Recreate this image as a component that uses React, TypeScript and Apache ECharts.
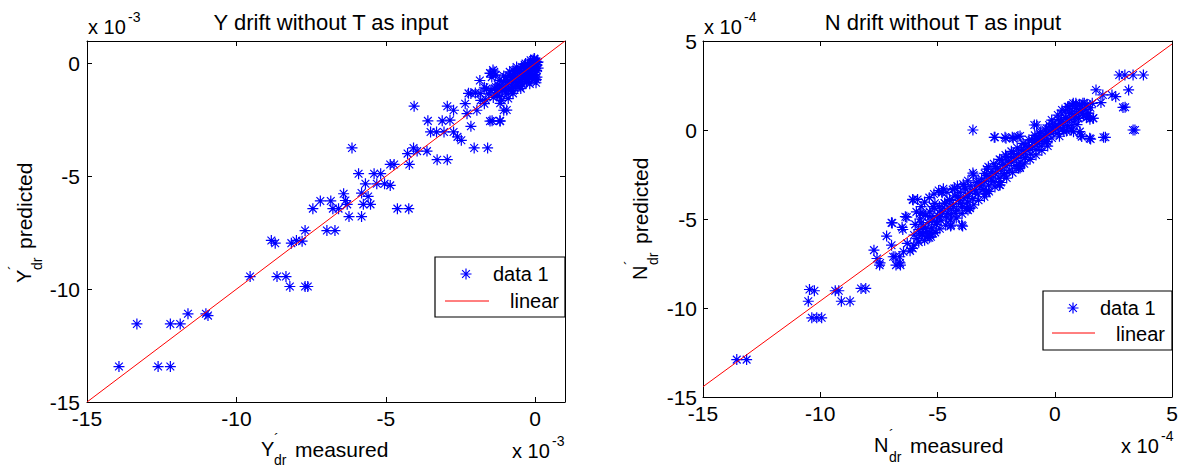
import React, { useEffect, useRef } from 'react';
import * as echarts from 'echarts';

const FONT = '"Liberation Sans", Arial, Helvetica, sans-serif';

// ---------- data (left: x 10^-3, right: x 10^-4) ----------
const yTitle = 'Y drift without T as input';
const nTitle = 'N drift without T as input';
const legendNames = ['data 1', 'linear'];

const yTicksX = { min: -15, max: 1, interval: 5 };
const yTicksY = { min: -15, max: 1, interval: 5 };
const nTicksX = { min: -15, max: 5, interval: 5 };
const nTicksY = { min: -15, max: 5, interval: 5 };

const yDriftPoints: [number, number][] = [
  [-13.93, -13.43], [-13.33, -11.54], [-12.62, -13.43], [-12.21, -13.43], [-12.21, -11.54],
  [-11.88, -11.54], [-11.62, -11.09], [-11.02, -11.09], [-10.95, -11.17], [-9.54, -9.44],
  [-8.83, -7.84], [-8.7, -7.96], [-8.64, -9.44], [-8.34, -9.44], [-8.21, -9.88],
  [-8.16, -7.96], [-7.99, -7.84], [-7.8, -7.87], [-7.7, -7.4], [-7.7, -9.88],
  [-7.61, -9.88], [-7.44, -6.43], [-7.19, -6.09], [-6.97, -7.4], [-6.84, -6.09],
  [-6.77, -6.43], [-6.7, -7.4], [-6.58, -6.43], [-6.41, -5.77], [-6.35, -6.07],
  [-6.29, -6.24], [-6.23, -6.78], [-6.13, -3.74], [-5.91, -4.88], [-5.81, -5.74],
  [-5.81, -6.78], [-5.75, -6.24], [-5.68, -5.33], [-5.59, -5.89], [-5.51, -6.24],
  [-5.39, -4.88], [-5.3, -5.33], [-5.17, -4.88], [-5.04, -5.33], [-4.85, -5.4],
  [-4.85, -4.47], [-4.72, -4.47], [-4.61, -6.43], [-4.23, -6.43], [-4.27, -3.99],
  [-4.21, -4.47], [-4.07, -3.74], [-4.05, -1.89], [-3.95, -3.88], [-3.62, -3.88],
  [-3.59, -2.54], [-3.5, -3.03], [-3.3, -3.03], [-3.28, -4.26], [-3.11, -2.54],
  [-3.05, -3.03], [-2.94, -4.26], [-2.94, -1.89], [-2.85, -2.51], [-2.73, -2.07],
  [-2.73, -3.03], [-2.6, -3.25], [-2.47, -3.4], [-2.34, -1.78], [-2.28, -2.22],
  [-2.23, -1.32], [-2.15, -2.78], [-2.15, -1.33], [-2.04, -3.74], [-1.95, -2.07],
  [-1.84, -1.32], [-1.82, -1.63], [-1.7, -1.78], [-1.63, -1.11], [-1.59, -3.74],
  [-1.51, -0.42], [-1.51, -2.55], [-1.5, -0.44], [-1.44, -2.54], [-1.41, -0.29],
  [-1.37, -0.37], [-1.31, -1.04], [-1.25, -1.41], [-1.18, -2.54], [-1.17, -2.55],
  [-1.17, -1.76], [-1.12, -1.63], [-1.05, -2.07], [-0.99, -1.26], [-0.95, -2.06],
  [-0.93, -0.81], [-0.85, -0.37], [-0.8, -1.11], [-0.74, -1.32], [-0.74, -0.29],
  [-0.73, -0.59], [-0.67, -0.96], [-0.6, -0.3], [-0.54, -0.74], [-0.5, -1.02],
  [-0.48, -1.11], [-0.45, -0.15], [-0.37, -0.52], [-0.32, 0.0], [-0.28, -0.81],
  [-0.24, -0.58], [-0.22, -0.3], [-0.15, 0.15], [-0.12, -0.67], [-0.07, 0.16],
  [-0.06, -0.15], [-0.03, 0.22], [0.0, -0.37], [0.0, -0.65], [0.0, 0.02],
  [0.04, -0.71], [0.06, -0.07], [0.1, 0.07],
  [-1.55, -1.35], [-1.48, -1.2], [-1.4, -1.5], [-1.35, -1.1], [-1.3, -1.3],
  [-1.25, -0.95], [-1.2, -1.45], [-1.15, -1.0], [-1.1, -1.2], [-1.05, -0.8],
  [-1.0, -1.05], [-0.98, -0.6], [-0.95, -1.35], [-0.9, -0.85], [-0.88, -1.15],
  [-0.85, -0.55], [-0.8, -0.95], [-0.78, -0.7], [-0.75, -1.2], [-0.7, -0.45],
  [-0.68, -0.8], [-0.65, -1.0], [-0.6, -0.6], [-0.58, -0.35], [-0.55, -0.85],
  [-0.5, -0.5], [-0.48, -0.25], [-0.45, -0.7], [-0.42, -0.95], [-0.4, -0.4],
  [-0.38, -0.15], [-0.35, -0.6], [-0.3, -0.3], [-0.28, -0.8], [-0.25, -0.1],
  [-0.22, -0.45], [-0.2, -0.65], [-0.18, -0.2], [-0.15, 0.05], [-0.12, -0.35],
  [-0.1, -0.55], [-0.08, -0.1], [-0.05, 0.12], [-0.03, -0.25], [0.02, -0.15],
  [0.04, 0.1], [0.05, -0.3], [0.06, -0.6], [0.08, 0.05], [0.1, -0.2],
  [-0.02, 0.2], [0.03, -0.85], [-1.7, -1.05], [-1.85, -0.75], [-2.0, -1.3],
  [-1.65, -1.6], [-0.9, -1.55], [-1.45, -0.6], [-1.32, -0.5], [-1.2, -0.75],
  [-1.05, -0.55], [-0.62, -0.15], [-0.35, -0.05], [-0.18, -0.9], [-0.02, -0.5]
];

const nDriftPoints: [number, number][] = [
  [-13.56, -12.9], [-13.14, -12.9], [-10.46, -8.96], [-10.25, -9.03], [-10.51, -9.62],
  [-10.36, -10.55], [-9.94, -10.55], [-10.15, -10.55], [-9.36, -9.03], [-9.21, -9.03],
  [-9.1, -9.62], [-8.73, -9.62], [-8.26, -8.9], [-8.06, -8.9], [-7.71, -6.75],
  [-7.58, -7.22], [-7.47, -7.59], [-7.45, -7.47], [-7.17, -5.96], [-6.96, -5.21],
  [-6.96, -6.47], [-6.93, -5.22], [-6.89, -7.12], [-6.81, -7.12], [-6.77, -7.59],
  [-6.61, -7.12], [-6.6, -7.47], [-6.58, -7.59], [-6.51, -5.47], [-6.48, -5.59],
  [-6.45, -6.84], [-6.37, -4.87], [-6.31, -4.9], [-6.29, -6.37], [-6.17, -6.79],
  [-6.06, -6.65], [-6.04, -3.93], [-6.01, -6.47], [-6.06, -3.9], [-5.85, -3.9],
  [-5.75, -5.79], [-5.74, -4.69], [-5.7, -5.21], [-5.63, -5.81], [-5.62, -4.67],
  [-5.51, -5.53], [-5.43, -5.96], [-5.32, -4.87], [-5.32, -5.79], [-5.28, -6.0],
  [-5.19, -5.81], [-5.19, -4.31], [-5.11, -4.12], [-5.04, -5.15], [-4.91, -4.87],
  [-4.85, -4.5], [-4.82, -3.47], [-4.8, -3.52], [-4.69, -4.12], [-4.56, -4.69],
  [-4.48, -3.9], [-4.44, -5.4], [-4.42, -5.34], [-4.33, -4.31], [-4.28, -3.28],
  [-4.22, -4.69], [-4.12, -3.75], [-4.01, -4.12], [-3.97, -5.34], [-3.93, -5.4],
  [-3.86, -3.19], [-3.78, -4.4], [-3.7, -3.75], [-3.62, -4.4], [-3.61, -4.38],
  [-3.49, 0.0], [-3.49, -2.42], [-3.46, -2.53], [-3.38, -3.47], [-3.27, -2.91],
  [-3.15, -3.19], [-2.99, -2.44], [-2.91, -3.47], [-2.9, -3.56], [-2.83, -2.06],
  [-2.71, -2.81], [-2.58, -0.41], [-2.55, -0.41], [-2.52, -2.06], [-2.36, -3.09],
  [-2.33, -3.09], [-2.28, -1.69], [-2.17, -2.53], [-2.12, -0.41], [-2.08, -0.47],
  [-2.05, -1.5], [-1.81, -0.41], [-1.77, -0.47], [-1.76, -1.31], [-1.57, -0.37],
  [-1.49, -2.06], [-1.48, -2.13], [-1.48, -0.34], [-1.42, -1.12], [-1.26, -0.84],
  [-1.1, -0.94], [-0.98, -0.56], [-0.87, 0.28], [-0.79, -0.47], [-0.77, 0.28],
  [-0.63, -0.19], [-0.55, -0.56], [-0.39, 0.0], [-0.31, -0.66], [-0.24, 0.28],
  [-0.13, 0.56], [0.0, 0.19], [0.13, 0.84], [0.24, 0.37], [0.31, 1.12],
  [0.39, -0.09], [0.47, 0.66], [0.55, 1.31], [0.63, 0.94], [0.71, 0.0],
  [0.79, 1.5], [0.87, 0.75], [0.94, 1.22], [1.02, 0.66], [1.07, -0.09],
  [1.1, -0.28], [1.15, -0.37], [1.18, 0.94], [1.26, 1.5], [1.42, 0.75],
  [1.49, -0.47], [1.53, -0.51], [1.63, 0.66], [1.65, 0.66], [1.76, 2.25],
  [1.97, 1.54], [2.05, 1.97], [2.08, -0.41], [2.16, -0.41], [2.44, 1.97],
  [2.6, 1.87], [2.75, 3.09], [2.91, 1.27], [3.0, 1.28], [2.99, 3.09],
  [3.15, 2.25], [3.34, 0.0], [3.42, 0.0], [3.34, 3.09], [3.78, 3.09],
  [-6.0, -5.9], [-5.95, -5.3], [-5.88, -6.1], [-5.8, -5.6], [-5.75, -5.0],
  [-5.66, -5.9], [-5.6, -5.4], [-5.52, -4.8], [-5.45, -5.7], [-5.4, -5.2],
  [-5.33, -4.6], [-5.25, -5.5], [-5.2, -5.0], [-5.12, -4.4], [-5.05, -5.3],
  [-5.0, -4.8], [-4.92, -4.3], [-4.85, -5.1], [-4.78, -4.6], [-4.7, -4.1],
  [-4.62, -4.9], [-4.55, -4.4], [-4.48, -3.95], [-4.4, -4.7], [-4.33, -4.2],
  [-4.25, -3.7], [-4.18, -4.5], [-4.1, -3.95], [-4.03, -3.5], [-3.95, -4.3],
  [-3.88, -3.8], [-3.8, -3.3], [-3.72, -4.05], [-3.65, -3.55], [-3.58, -3.15],
  [-3.5, -3.85], [-3.42, -3.35], [-3.35, -2.95], [-3.28, -3.6], [-3.2, -3.1],
  [-3.12, -2.75], [-3.05, -3.35], [-2.98, -2.9], [-2.9, -2.55], [-2.82, -3.1],
  [-2.75, -2.65], [-2.68, -2.35], [-2.6, -2.9], [-2.52, -2.45], [-2.45, -2.15],
  [-2.38, -2.7], [-2.3, -2.25], [-2.22, -1.95], [-2.15, -2.45], [-2.08, -2.0],
  [-2.0, -1.75], [-1.92, -2.25], [-1.85, -1.8], [-1.78, -1.55], [-1.7, -2.0],
  [-1.62, -1.6], [-1.55, -1.35], [-1.48, -1.8], [-1.4, -1.4], [-1.32, -1.15],
  [-1.25, -1.55], [-1.18, -1.15], [-1.1, -0.95], [-1.02, -1.35], [-0.95, -0.95],
  [-0.88, -0.7], [-0.8, -1.1], [-0.72, -0.75], [-0.65, -0.5], [-0.58, -0.9],
  [-0.5, -0.5], [-0.42, -0.3], [-0.35, -0.65], [-0.28, -0.25], [-0.2, -0.05],
  [-0.12, -0.45], [-0.05, -0.05], [0.02, 0.2], [0.1, -0.2], [0.18, 0.15],
  [0.25, 0.45], [0.32, 0.05], [0.4, 0.4], [0.48, 0.7], [0.55, 0.25],
  [0.62, 0.6], [0.7, 0.95], [0.78, 0.45], [0.85, 0.85], [0.92, 1.2],
  [1.0, 0.65], [1.08, 1.05], [1.15, 1.35], [1.22, 0.8], [1.3, 1.15],
  [1.38, 1.45], [1.45, 0.95], [1.52, 1.25], [1.6, 1.5], [0.6, 1.3],
  [0.75, 1.4], [0.9, 1.5], [1.05, 1.45], [1.2, 1.5], [0.45, 1.1],
  [0.3, 0.9], [1.35, 0.7], [1.5, 0.6], [0.95, 0.3], [0.7, 0.1],
  [0.5, -0.05], [0.2, -0.35], [0.8, -0.1],
  [-5.9, -4.6], [-5.7, -4.3], [-5.55, -4.05], [-5.35, -3.8], [-5.15, -3.6],
  [-4.95, -3.4], [-4.75, -3.3], [-4.6, -3.5], [-4.35, -3.35], [-4.15, -3.15],
  [-3.9, -3.05], [-3.7, -2.85], [-5.8, -6.3], [-5.55, -6.2], [-5.35, -6.05],
  [-5.1, -5.75], [-4.9, -5.55], [-4.65, -5.35], [-4.45, -5.05], [-4.2, -4.95],
  [-3.95, -4.7], [-3.7, -4.5], [-3.45, -4.2], [-3.25, -3.95], [-3.0, -3.75],
  [-2.8, -3.45], [-2.55, -3.2], [-2.3, -2.95], [-2.05, -2.7], [-1.8, -2.4],
  [-1.55, -2.15], [-1.3, -1.9], [-1.05, -1.65], [-0.8, -1.4], [-0.55, -1.15],
  [-0.3, -0.9], [-2.9, -2.2], [-2.6, -1.9], [-2.35, -1.65], [-2.1, -1.4],
  [-1.85, -1.2], [-1.6, -1.0], [-1.35, -0.75], [-1.1, -0.55], [-0.85, -0.3],
  [-0.6, -0.1], [-0.35, 0.1], [-0.1, 0.35], [0.15, 0.6]
];

const yLinearX = [-15, 1];
const yLinearY = [-15, 1];
const nLinearX = [-15, 5];
const nLinearY = [-14.42, 4.83];

// ---------- drawing ----------
const ASTERISK =
  'M4.45,0H5.55V10H4.45Z M0,4.45H10V5.55H0Z M1.1,1.85L1.85,1.1L8.9,8.15L8.15,8.9Z M8.15,1.1L8.9,1.85L1.85,8.9L1.1,8.15Z';

echarts.graphic.registerShape('asterisk', echarts.graphic.extendPath(ASTERISK, {}) as any);

const BLUE = '#0000ff';
const RED = '#ff0000';
const TICK_FS = 21;

const fmt = (v: number) => (v % 5 === 0 ? String(v) : '');

function axis(
  gridIndex: number,
  range: { min: number; max: number; interval: number },
  position: string,
  showLabel: boolean,
  margin: number
) {
  return {
    type: 'value',
    gridIndex,
    position,
    min: range.min,
    max: range.max,
    interval: range.interval,
    splitLine: { show: false },
    axisLine: { show: true, onZero: false, lineStyle: { color: '#000', width: 1 } },
    axisTick: { show: true, inside: true, length: 5, lineStyle: { color: '#000' } },
    axisLabel: {
      show: showLabel,
      margin,
      formatter: fmt,
      color: '#000',
      fontSize: TICK_FS,
      fontFamily: FONT,
      showMinLabel: true,
      showMaxLabel: true,
    },
  };
}

function txt(text: string, x: number, y: number, size: number, align = 'left') {
  return {
    type: 'text',
    x,
    y,
    z: 100,
    style: { text, fill: '#000', fontSize: size, fontFamily: FONT, align, verticalAlign: 'middle' },
  };
}

// axis label like  Y'_dr measured
function sublabel(letter: string, rest: string, x: number, y: number, rotated: boolean, letterW: number, subDy: number) {
  return {
    type: 'group',
    x,
    y,
    rotation: rotated ? Math.PI / 2 : 0,
    children: [
      txt(letter, 0, -7, 20),
      txt('\u00b4', letterW, -17, 14),
      txt('dr', letterW, subDy, 14),
      txt(rest, letterW + 21, -7, 21),
    ],
  };
}

function exponent(exp: string, x: number, y: number) {
  return [txt('x 10', x, y, 20), txt(exp, x + 40, y - 10, 14)];
}

function legend(x: number, y: number, w: number, h: number, d1: [number, number], ln: [number, number, number], mk: [number, number]) {
  return [
    {
      type: 'rect',
      z: 90,
      shape: { x, y, width: w, height: h },
      style: { fill: '#fff', stroke: '#000', lineWidth: 1.2 },
    },
    {
      type: 'asterisk',
      z: 100,
      x: mk[0] - 5.5,
      y: mk[1] - 5.5,
      scaleX: 1.1,
      scaleY: 1.1,
      style: { fill: BLUE },
    },
    txt(legendNames[0], d1[0], d1[1], 20),
    {
      type: 'line',
      z: 100,
      shape: { x1: ln[0], y1: ln[2], x2: ln[1], y2: ln[2] },
      style: { stroke: RED, lineWidth: 1 },
    },
  ];
}

const titleStyle = { fontSize: 22, fontWeight: 'normal', color: '#000', fontFamily: FONT };

const option: any = {
  animation: false,
  backgroundColor: '#fff',
  textStyle: { fontFamily: FONT },
  title: [
    { text: yTitle, left: 326, top: 6, textAlign: 'center', textStyle: titleStyle },
    { text: nTitle, left: 938, top: 6, textAlign: 'center', textStyle: titleStyle },
  ],
  grid: [
    { left: 87, top: 41, width: 478, height: 361, containLabel: false, outerBoundsMode: 'none', show: false },
    { left: 703, top: 41, width: 469, height: 356, containLabel: false, outerBoundsMode: 'none', show: false },
  ],
  xAxis: [
    axis(0, yTicksX, 'bottom', true, 6),
    axis(0, yTicksX, 'top', false, 6),
    axis(1, nTicksX, 'bottom', true, 6),
    axis(1, nTicksX, 'top', false, 6),
  ],
  yAxis: [
    axis(0, yTicksY, 'left', true, 7),
    axis(0, yTicksY, 'right', false, 7),
    axis(1, nTicksY, 'left', true, 6),
    axis(1, nTicksY, 'right', false, 6),
  ],
  series: [
    {
      name: legendNames[0],
      type: 'scatter',
      xAxisIndex: 0,
      yAxisIndex: 0,
      symbol: 'path://' + ASTERISK,
      symbolSize: 11,
      itemStyle: { color: BLUE, opacity: 1 },
      data: yDriftPoints,
      z: 2,
    },
    {
      name: legendNames[1],
      type: 'line',
      xAxisIndex: 0,
      yAxisIndex: 0,
      showSymbol: false,
      symbol: 'none',
      lineStyle: { color: RED, width: 1 },
      data: yLinearX.map((x, i) => [x, yLinearY[i]]),
      z: 3,
    },
    {
      name: legendNames[0],
      type: 'scatter',
      xAxisIndex: 2,
      yAxisIndex: 2,
      symbol: 'path://' + ASTERISK,
      symbolSize: 11,
      itemStyle: { color: BLUE, opacity: 1 },
      data: nDriftPoints,
      z: 2,
    },
    {
      name: legendNames[1],
      type: 'line',
      xAxisIndex: 2,
      yAxisIndex: 2,
      showSymbol: false,
      symbol: 'none',
      lineStyle: { color: RED, width: 1 },
      data: nLinearX.map((x, i) => [x, nLinearY[i]]),
      z: 3,
    },
  ],
  graphic: [
    sublabel('Y', 'measured', 261, 456, false, 13, 4),
    sublabel('Y', 'predicted', 31, 283, true, 13, 6),
    sublabel('N', 'measured', 874, 452, false, 15, 5),
    sublabel('N', 'predicted', 647, 280, true, 15, 6),
    ...exponent('-3', 88, 27),
    ...exponent('-4', 704, 27),
    ...exponent('-3', 512, 451),
    ...exponent('-4', 1121, 446),
    ...legend(435, 257, 130, 60, [493, 274], [445, 489, 301], [466, 274]),
    txt(legendNames[1], 510, 301, 20),
    ...legend(1043, 291, 129, 59, [1100, 308], [1052, 1095, 333], [1073, 308]),
    txt(legendNames[1], 1116, 334, 20),
  ],
};

export default function App() {
  const ref = useRef<HTMLDivElement>(null);
  useEffect(() => {
    const chart = echarts.init(ref.current!, null, { renderer: 'svg' });
    chart.setOption(option);
    return () => chart.dispose();
  }, []);
  return (
    <div
      ref={ref}
      style={{ position: 'fixed', left: 0, top: 0, width: 1181, height: 468, background: '#fff' }}
    />
  );
}
